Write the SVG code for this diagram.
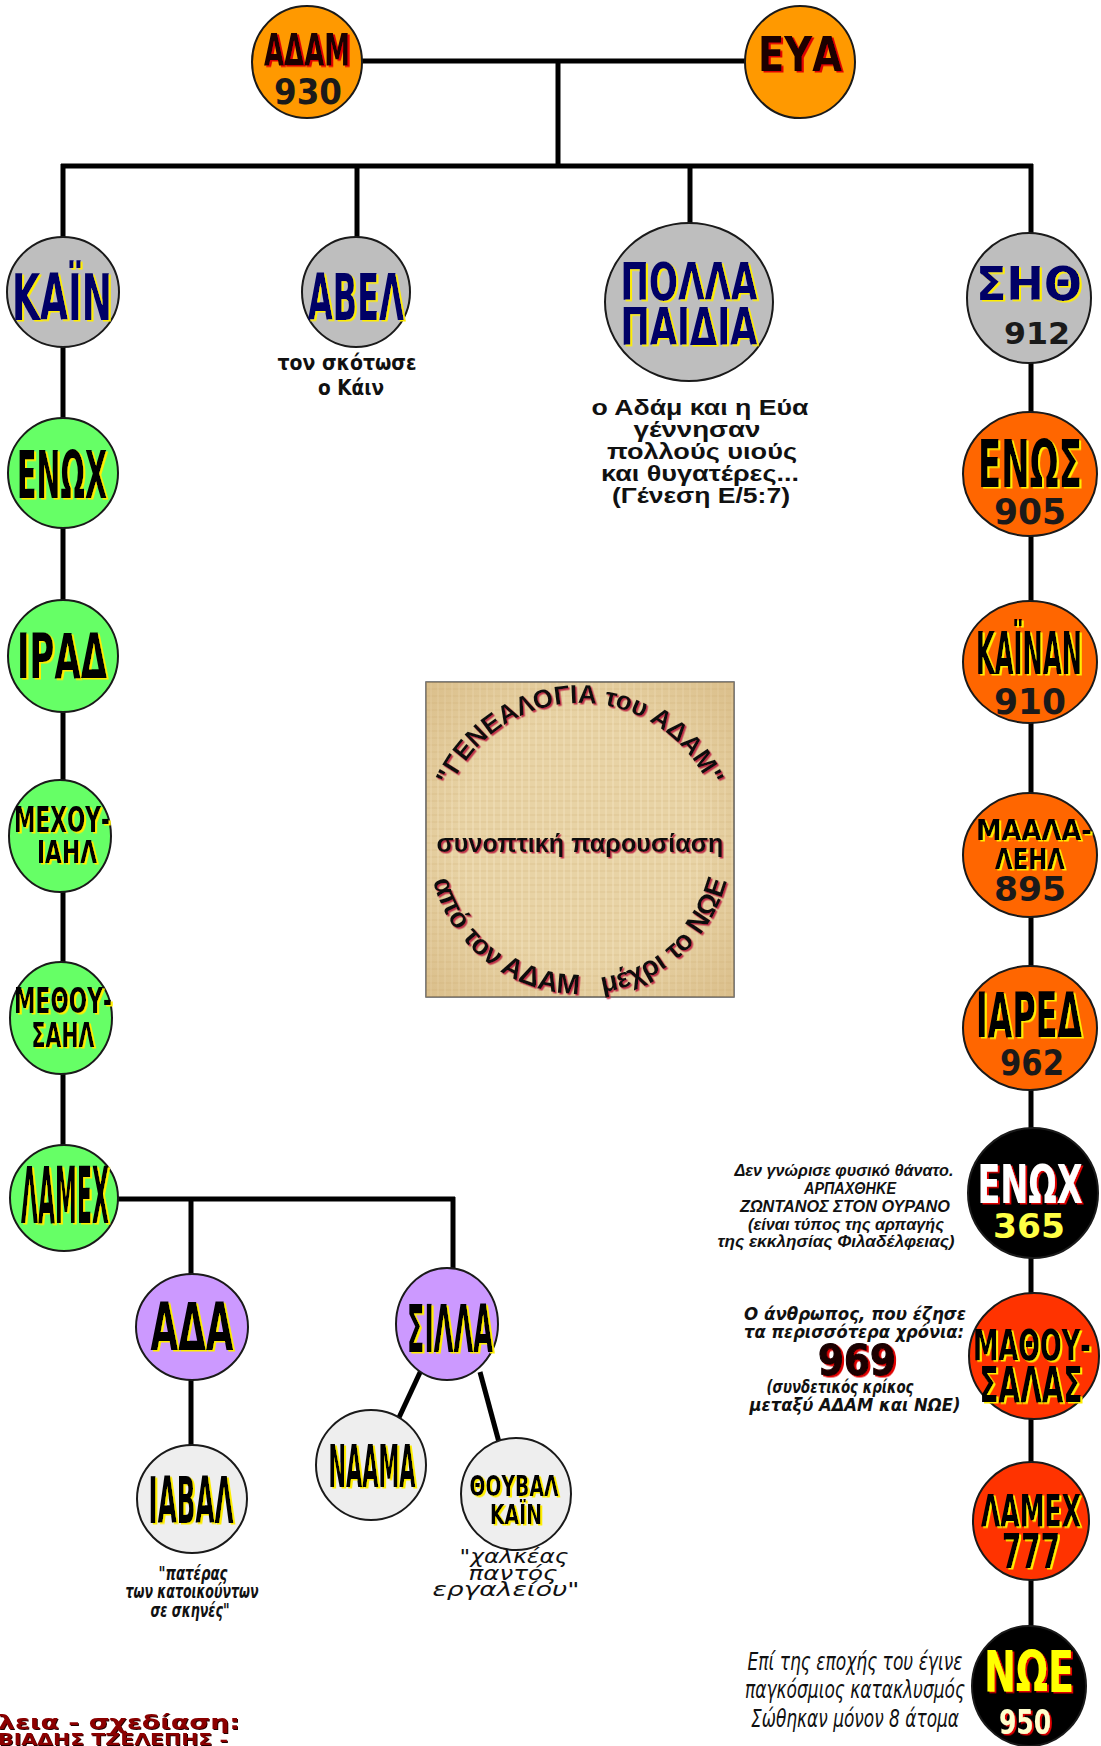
<svg xmlns="http://www.w3.org/2000/svg" width="1101" height="1746" viewBox="0 0 1101 1746">
<defs>
<style>
.ln{stroke:#000;stroke-width:5;fill:none}
.nd{stroke:#1a1a1a;stroke-width:2}
.og{fill:#FF9900}.gr{fill:#BEBEBE}.gn{fill:#66FF66}.or{fill:#FF6600}.rd{fill:#FF3300}.lv{fill:#CC99FF}.wh{fill:#EEEEEE}.bk{fill:#000}
.c{font-family:"DejaVu Sans Condensed","DejaVu Sans","Liberation Sans",sans-serif;font-weight:bold;text-anchor:middle}
.w{font-family:"DejaVu Sans","Liberation Sans",sans-serif;font-weight:bold;text-anchor:middle}
.nv{fill:#000066;filter:url(#sy)}
.bl{fill:#000;filter:url(#sy)}
.br{fill:#1a0000;filter:url(#sr)}
.num{fill:#1a1a1a}
.n1{font-family:"Liberation Sans","DejaVu Sans",sans-serif;font-weight:bold;text-anchor:middle;fill:#111}
.n2{font-family:"Liberation Sans","DejaVu Sans",sans-serif;font-weight:bold;font-style:italic;text-anchor:middle;fill:#111}
.n3{font-family:"DejaVu Sans Condensed","Liberation Sans",sans-serif;font-style:italic;text-anchor:middle;fill:#111}
.n4{font-family:"DejaVu Sans","Liberation Sans",sans-serif;font-style:italic;text-anchor:middle;fill:#111}
.bx{font-family:"Liberation Sans","DejaVu Sans",sans-serif;font-weight:bold;fill:#111;filter:url(#sp)}
</style>
<filter id="sy" x="-10%" y="-10%" width="130%" height="130%"><feDropShadow dx="2" dy="1.5" stdDeviation="0.5" flood-color="#FFEE00"/></filter>
<filter id="sr" x="-10%" y="-10%" width="130%" height="130%"><feDropShadow dx="2" dy="1.5" stdDeviation="0.6" flood-color="#E00000"/></filter>
<filter id="sp" x="-10%" y="-10%" width="130%" height="130%"><feDropShadow dx="1.5" dy="1.5" stdDeviation="0.6" flood-color="#C03048"/></filter>
<filter id="sd" x="-10%" y="-10%" width="130%" height="130%"><feDropShadow dx="1" dy="1" stdDeviation="0.4" flood-color="#220000"/></filter>
<pattern id="pap" width="14" height="14" patternUnits="userSpaceOnUse">
<rect width="14" height="14" fill="#E8D3A5"/>
<path d="M0 3H14M0 10H14" stroke="#D9BF8C" stroke-width="1.4" opacity="0.5"/>
<path d="M4 0V14M11 0V14" stroke="#F2E3C0" stroke-width="1.4" opacity="0.6"/>
</pattern>
<radialGradient id="vig" cx="50%" cy="50%" r="70%">
<stop offset="0.55" stop-color="#C9A56A" stop-opacity="0"/>
<stop offset="1" stop-color="#C9A56A" stop-opacity="0.45"/>
</radialGradient>
<path id="arcTop" d="M 439 844 A 141 141 0 0 1 721 844"/>
<path id="arcBot" d="M 428 842 A 152 152 0 0 0 732 842"/>
</defs>
<rect width="1101" height="1746" fill="#fff"/>

<g id="connectors">
<path class="ln" d="M360 61H748"/>
<path class="ln" d="M558 61V166"/>
<path class="ln" d="M61 166H1033"/>
<path class="ln" d="M63 164V1150"/>
<path class="ln" d="M357 166V240"/>
<path class="ln" d="M690 166V226"/>
<path class="ln" d="M1031 164V1640"/>
<path class="ln" d="M115 1199H455"/>
<path class="ln" d="M191 1197V1448"/>
<path class="ln" d="M453 1197V1272"/>
<path class="ln" d="M423 1366L396 1424"/>
<path class="ln" d="M480 1372L500 1446"/>
</g>

<g id="title-box">
<rect x="426" y="682" width="308" height="315" fill="url(#pap)" stroke="#555" stroke-width="1.5"/>
<rect x="426" y="682" width="308" height="315" fill="url(#vig)"/>
<text class="bx" font-size="26" text-anchor="middle"><textPath href="#arcTop" startOffset="50%">"ΓΕΝΕΑΛΟΓΙΑ του ΑΔΑΜ"</textPath></text>
<text class="bx" font-size="26" x="580" y="852" text-anchor="middle" textLength="287" lengthAdjust="spacingAndGlyphs">συνοπτική παρουσίαση</text>
<text class="bx" font-size="28" text-anchor="middle"><textPath href="#arcBot" startOffset="50%">από τον ΑΔΑΜ&#160;&#160;&#160;μέχρι το ΝΩΕ</textPath></text>
</g>

<g id="adam"><ellipse class="nd og" cx="307" cy="62" rx="55" ry="56"/>
<text class="c br" x="307" y="66" font-size="44" textLength="86" lengthAdjust="spacingAndGlyphs">ΑΔΑΜ</text>
<text class="w num" x="308" y="104" font-size="36" textLength="68" lengthAdjust="spacingAndGlyphs">930</text></g>
<g id="eva"><ellipse class="nd og" cx="800" cy="62" rx="55" ry="56"/>
<text class="w br" x="800" y="71" font-size="48" textLength="84" lengthAdjust="spacingAndGlyphs">ΕΥΑ</text></g>

<g id="kain"><ellipse class="nd gr" cx="63" cy="292" rx="56" ry="55"/>
<text class="c nv" x="62" y="320" font-size="64" textLength="100" lengthAdjust="spacingAndGlyphs">ΚΑΪΝ</text></g>
<g id="abel"><ellipse class="nd gr" cx="356" cy="292" rx="54" ry="55"/>
<text class="c nv" x="356" y="320" font-size="64" textLength="96" lengthAdjust="spacingAndGlyphs">ΑΒΕΛ</text></g>
<g id="polla"><ellipse class="nd gr" cx="689" cy="302" rx="84" ry="79"/>
<text class="w nv" font-size="52"><tspan x="689" y="300" textLength="137" lengthAdjust="spacingAndGlyphs">ΠΟΛΛΑ</tspan><tspan x="689" y="345" textLength="137" lengthAdjust="spacingAndGlyphs">ΠΑΙΔΙΑ</tspan></text></g>
<g id="sith"><ellipse class="nd gr" cx="1029" cy="298" rx="62" ry="65"/>
<text class="w nv" x="1029" y="300" font-size="46" textLength="106" lengthAdjust="spacingAndGlyphs">ΣΗΘ</text>
<text class="w num" x="1037" y="344" font-size="30" textLength="66" lengthAdjust="spacingAndGlyphs">912</text></g>

<g id="enox-kain"><ellipse class="nd gn" cx="63" cy="473" rx="55" ry="55"/>
<text class="c bl" x="62" y="498" font-size="66" textLength="90" lengthAdjust="spacingAndGlyphs">ΕΝΩΧ</text></g>
<g id="irad"><ellipse class="nd gn" cx="63" cy="656" rx="55" ry="56"/>
<text class="c bl" x="62" y="678" font-size="62" textLength="90" lengthAdjust="spacingAndGlyphs">ΙΡΑΔ</text></g>
<g id="mexoyiail"><ellipse class="nd gn" cx="60" cy="836" rx="51" ry="56"/>
<text class="c bl"><tspan x="62" y="832" font-size="35" textLength="96" lengthAdjust="spacingAndGlyphs">ΜΕΧΟΥ-</tspan><tspan x="67" y="863" font-size="32" textLength="60" lengthAdjust="spacingAndGlyphs">ΙΑΗΛ</tspan></text></g>
<g id="methoysail"><ellipse class="nd gn" cx="61" cy="1018" rx="51" ry="56"/>
<text class="c bl"><tspan x="63" y="1013" font-size="35" textLength="98" lengthAdjust="spacingAndGlyphs">ΜΕΘΟΥ-</tspan><tspan x="63" y="1047" font-size="33" textLength="63" lengthAdjust="spacingAndGlyphs">ΣΑΗΛ</tspan></text></g>
<g id="lamex-kain"><ellipse class="nd gn" cx="64" cy="1198" rx="54" ry="53"/>
<text class="c bl" x="65" y="1223" font-size="78" textLength="88" lengthAdjust="spacingAndGlyphs">ΛΑΜΕΧ</text></g>

<g id="ada"><ellipse class="nd lv" cx="192" cy="1327" rx="56" ry="53"/>
<text class="c bl" x="192" y="1350" font-size="66" textLength="83" lengthAdjust="spacingAndGlyphs">ΑΔΑ</text></g>
<g id="silla"><ellipse class="nd lv" cx="447" cy="1324" rx="51" ry="56"/>
<text class="c bl" x="450" y="1352" font-size="66" textLength="86" lengthAdjust="spacingAndGlyphs">ΣΙΛΛΑ</text></g>
<g id="iaval"><ellipse class="nd wh" cx="192" cy="1499" rx="55" ry="54"/>
<text class="c bl" x="191" y="1523" font-size="64" textLength="85" lengthAdjust="spacingAndGlyphs">ΙΑΒΑΛ</text></g>
<g id="naama"><ellipse class="nd wh" cx="371" cy="1465" rx="55" ry="55"/>
<text class="c bl" x="372" y="1487" font-size="58" textLength="87" lengthAdjust="spacingAndGlyphs">ΝΑΑΜΑ</text></g>
<g id="thouval"><ellipse class="nd wh" cx="516" cy="1494" rx="55" ry="56"/>
<text class="w bl"><tspan x="514" y="1496" font-size="28" textLength="89" lengthAdjust="spacingAndGlyphs">ΘΟΥΒΑΛ</tspan><tspan x="516" y="1524" font-size="27" textLength="52" lengthAdjust="spacingAndGlyphs">ΚΑΪΝ</tspan></text></g>

<g id="enos"><ellipse class="nd or" cx="1030" cy="474" rx="67" ry="62"/>
<text class="c bl" x="1030" y="487" font-size="66" textLength="104" lengthAdjust="spacingAndGlyphs">ΕΝΩΣ</text>
<text class="w num" x="1030" y="524" font-size="35" textLength="72" lengthAdjust="spacingAndGlyphs">905</text></g>
<g id="kainan"><ellipse class="nd or" cx="1030" cy="662" rx="67" ry="61"/>
<text class="c bl" x="1029" y="674" font-size="58" textLength="106" lengthAdjust="spacingAndGlyphs">ΚΑΪΝΑΝ</text>
<text class="w num" x="1030" y="714" font-size="35" textLength="72" lengthAdjust="spacingAndGlyphs">910</text></g>
<g id="maalaleil"><ellipse class="nd or" cx="1030" cy="855" rx="67" ry="62"/>
<text class="w bl" font-size="29"><tspan x="1034" y="840" textLength="116" lengthAdjust="spacingAndGlyphs">ΜΑΑΛΑ-</tspan><tspan x="1030" y="869" textLength="70" lengthAdjust="spacingAndGlyphs">ΛΕΗΛ</tspan></text>
<text class="w num" x="1030" y="901" font-size="33" textLength="72" lengthAdjust="spacingAndGlyphs">895</text></g>
<g id="iared"><ellipse class="nd or" cx="1030" cy="1028" rx="67" ry="62"/>
<text class="c bl" x="1029" y="1037" font-size="62" textLength="106" lengthAdjust="spacingAndGlyphs">ΙΑΡΕΔ</text>
<text class="w num" x="1032" y="1075" font-size="35" textLength="64" lengthAdjust="spacingAndGlyphs">962</text></g>
<g id="enox-sith"><ellipse class="nd bk" cx="1033" cy="1193" rx="65" ry="65"/>
<text class="c" x="1030" y="1203" font-size="54" fill="#fff" filter="url(#sr)" textLength="105" lengthAdjust="spacingAndGlyphs">ΕΝΩΧ</text>
<text class="w" x="1029" y="1238" font-size="33" fill="#FFFF44" textLength="72" lengthAdjust="spacingAndGlyphs">365</text></g>
<g id="mathousalas"><ellipse class="nd rd" cx="1034" cy="1356" rx="65" ry="63"/>
<text class="c bl"><tspan x="1032" y="1360" font-size="42" textLength="118" lengthAdjust="spacingAndGlyphs">ΜΑΘΟΥ-</tspan><tspan x="1031" y="1402" font-size="50" textLength="103" lengthAdjust="spacingAndGlyphs">ΣΑΛΑΣ</tspan></text></g>
<g id="lamex-sith"><ellipse class="nd rd" cx="1031" cy="1521" rx="58" ry="59"/>
<text class="c bl"><tspan x="1031" y="1527" font-size="44" textLength="100" lengthAdjust="spacingAndGlyphs">ΛΑΜΕΧ</tspan><tspan x="1031" y="1568" font-size="48" textLength="58" lengthAdjust="spacingAndGlyphs">777</tspan></text></g>
<g id="noe"><ellipse class="nd bk" cx="1029" cy="1686" rx="57" ry="60"/>
<text class="c" fill="#FFFF00" filter="url(#sr)"><tspan x="1029" y="1692" font-size="56" textLength="90" lengthAdjust="spacingAndGlyphs">ΝΩΕ</tspan><tspan x="1025" y="1734" font-size="33" fill="#FFFFCC" font-family="DejaVu Sans, sans-serif" textLength="52" lengthAdjust="spacingAndGlyphs">950</tspan></text></g>

<g id="notes">
<text class="c" font-size="21" fill="#111"><tspan x="347" y="370" textLength="139" lengthAdjust="spacingAndGlyphs">τον σκότωσε</tspan><tspan x="351" y="395" textLength="66" lengthAdjust="spacingAndGlyphs">ο Κάιν</tspan></text>

<text class="n1" font-size="22"><tspan x="700" y="415" textLength="217" lengthAdjust="spacingAndGlyphs">ο Αδάμ και η Εύα</tspan><tspan x="697" y="437" textLength="127" lengthAdjust="spacingAndGlyphs">γέννησαν</tspan><tspan x="702" y="459" textLength="190" lengthAdjust="spacingAndGlyphs">πολλούς υιούς</tspan><tspan x="700" y="481" textLength="198" lengthAdjust="spacingAndGlyphs">και θυγατέρες...</tspan><tspan x="701" y="503" textLength="178" lengthAdjust="spacingAndGlyphs">(Γένεση Ε/5:7)</tspan></text>

<text class="n2" font-size="16"><tspan x="844" y="1176" textLength="219" lengthAdjust="spacingAndGlyphs">Δεν γνώρισε φυσικό θάνατο.</tspan><tspan x="850" y="1194" textLength="92" lengthAdjust="spacingAndGlyphs">ΑΡΠΑΧΘΗΚΕ</tspan><tspan x="845" y="1212" textLength="210" lengthAdjust="spacingAndGlyphs">ΖΩΝΤΑΝΟΣ ΣΤΟΝ ΟΥΡΑΝΟ</tspan><tspan x="846" y="1230" textLength="196" lengthAdjust="spacingAndGlyphs">(είναι τύπος της αρπαγής</tspan><tspan x="836" y="1247" textLength="237" lengthAdjust="spacingAndGlyphs">της εκκλησίας Φιλαδέλφειας)</tspan></text>

<text class="n4" font-size="18" font-weight="bold"><tspan x="855" y="1320" textLength="222" lengthAdjust="spacingAndGlyphs">Ο άνθρωπος, που έζησε</tspan><tspan x="854" y="1338" textLength="220" lengthAdjust="spacingAndGlyphs">τα περισσότερα χρόνια:</tspan></text>
<text class="w" x="857" y="1375" font-size="42" fill="#1a0000" stroke="#1a0000" stroke-width="1.2" filter="url(#sr)" textLength="78" lengthAdjust="spacingAndGlyphs">969</text>
<text class="n4" font-size="18" font-weight="bold"><tspan x="840" y="1393" textLength="147" lengthAdjust="spacingAndGlyphs">(συνδετικός κρίκος</tspan><tspan x="855" y="1411" textLength="211" lengthAdjust="spacingAndGlyphs">μεταξύ ΑΔΑΜ και ΝΩΕ)</tspan></text>

<text class="n3" font-size="19" font-weight="bold"><tspan x="193" y="1580" textLength="69" lengthAdjust="spacingAndGlyphs">"πατέρας</tspan><tspan x="192" y="1598" textLength="133" lengthAdjust="spacingAndGlyphs">των κατοικούντων</tspan><tspan x="190" y="1617" textLength="79" lengthAdjust="spacingAndGlyphs">σε σκηνές"</tspan></text>

<text class="n4" font-size="19"><tspan x="514" y="1563" textLength="109" lengthAdjust="spacingAndGlyphs">"χαλκέας</tspan><tspan x="513" y="1580" textLength="89" lengthAdjust="spacingAndGlyphs">παντός</tspan><tspan x="506" y="1596" textLength="147" lengthAdjust="spacingAndGlyphs">εργαλείου"</tspan></text>

<text class="n3" font-size="25"><tspan x="855" y="1670" textLength="215" lengthAdjust="spacingAndGlyphs">Επί της εποχής του έγινε</tspan><tspan x="855" y="1698" textLength="220" lengthAdjust="spacingAndGlyphs">παγκόσμιος κατακλυσμός</tspan><tspan x="855" y="1727" textLength="208" lengthAdjust="spacingAndGlyphs">Σώθηκαν μόνον 8 άτομα</tspan></text>

<text font-family="DejaVu Sans, sans-serif" font-weight="bold" fill="#8B0000" filter="url(#sd)"><tspan x="-2" y="1729" font-size="19" textLength="242" lengthAdjust="spacingAndGlyphs">λεια - σχεδίαση:</tspan><tspan x="-2" y="1745" font-size="15" textLength="230" lengthAdjust="spacingAndGlyphs">ΒΙΑΔΗΣ ΤΖΕΛΕΠΗΣ -</tspan></text>
</g>
</svg>
